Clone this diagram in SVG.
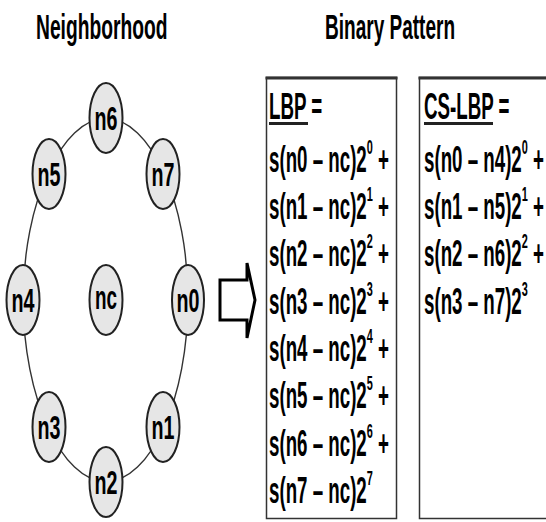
<svg xmlns="http://www.w3.org/2000/svg" width="546" height="522" viewBox="0 0 546 522">
  <style>
    text { font-family: "Liberation Sans", Arial, sans-serif; font-weight: bold; fill: #000; }
    .title { font-size: 35px; }
    .lbl { font-size: 33px; text-anchor: middle; }
    .eq { font-size: 36px; }
    .sup { font-size: 21px; }
    .node ellipse { fill: #e6e6e6; stroke: #222; stroke-width: 2; }
    .ring { fill: none; stroke: #333; stroke-width: 1.4; }
    .box { fill: #fff; stroke: #333; stroke-width: 1.5; }
    .boxtop { stroke: #333; stroke-width: 3; }
    .uline { stroke: #222; stroke-width: 3; }
  </style>

  <rect width="546" height="522" fill="#fff"/>

  <!-- headings (condensed horizontally) -->
  <text class="title" transform="translate(36,39) scale(0.55,1)">Neighborhood</text>
  <text class="title" transform="translate(325,39) scale(0.544,1)">Binary Pattern</text>

  <!-- ring joining the eight neighbours (ellipse centre 106,300; rx 83, ry 182) -->
  <g id="connectors">
    <path class="ring" d="M188,300 A83,182 0 0 1 164,427"/>
    <path class="ring" d="M164,427 A83,182 0 0 1 106,482"/>
    <path class="ring" d="M106,482 A83,182 0 0 1 48,427"/>
    <path class="ring" d="M48,427 A83,182 0 0 1 23,300"/>
    <path class="ring" d="M23,300 A83,182 0 0 1 48,173"/>
    <path class="ring" d="M48,173 A83,182 0 0 1 106,118"/>
    <path class="ring" d="M106,118 A83,182 0 0 1 164,173"/>
    <path class="ring" d="M164,173 A83,182 0 0 1 188,300"/>
  </g>

  <!-- neighbourhood nodes -->
  <g id="n6" class="node"><ellipse cx="106" cy="118" rx="16.5" ry="35"/><text class="lbl" x="106" y="130" textLength="23" lengthAdjust="spacingAndGlyphs">n6</text></g>
  <g id="n5" class="node"><ellipse cx="49" cy="174" rx="16.5" ry="35"/><text class="lbl" x="49" y="186" textLength="23" lengthAdjust="spacingAndGlyphs">n5</text></g>
  <g id="n7" class="node"><ellipse cx="163" cy="174" rx="16.5" ry="35"/><text class="lbl" x="163" y="186" textLength="23" lengthAdjust="spacingAndGlyphs">n7</text></g>
  <g id="n4" class="node"><ellipse cx="23" cy="300" rx="16.5" ry="35"/><text class="lbl" x="23" y="312" textLength="23" lengthAdjust="spacingAndGlyphs">n4</text></g>
  <g id="nc" class="node"><ellipse cx="106" cy="300" rx="16.5" ry="35"/><text class="lbl" x="106" y="309" textLength="22" lengthAdjust="spacingAndGlyphs">nc</text></g>
  <g id="n0" class="node"><ellipse cx="188" cy="300" rx="16" ry="35"/><text class="lbl" x="188" y="312" textLength="23" lengthAdjust="spacingAndGlyphs">n0</text></g>
  <g id="n3" class="node"><ellipse cx="49" cy="427" rx="16.5" ry="35"/><text class="lbl" x="49" y="439" textLength="23" lengthAdjust="spacingAndGlyphs">n3</text></g>
  <g id="n1" class="node"><ellipse cx="163" cy="427" rx="16.5" ry="35"/><text class="lbl" x="163" y="439" textLength="23" lengthAdjust="spacingAndGlyphs">n1</text></g>
  <g id="n2" class="node"><ellipse cx="106" cy="482" rx="16.5" ry="35"/><text class="lbl" x="106" y="494" textLength="23" lengthAdjust="spacingAndGlyphs">n2</text></g>

  <!-- hollow block arrow -->
  <g id="arrow">
    <polygon points="220,280 247,280 247,263 255,300 247,338 247,320 220,320" fill="#fff" stroke="#000" stroke-width="3" stroke-linejoin="miter"/>
  </g>

  <!-- LBP formula box -->
  <g id="lbp">
    <rect class="box" x="266.5" y="77.5" width="130" height="441"/>
    <line class="boxtop" x1="265.5" y1="78" x2="397.5" y2="78"/>
    <g transform="translate(269,0) scale(0.52,1)">
      <text class="eq" x="0" y="119">LBP =</text>
      <text class="eq" x="0" y="172">s(n0 – nc)2<tspan class="sup" dy="-18">0</tspan><tspan dy="18"> +</tspan></text>
      <text class="eq" x="0" y="219">s(n1 – nc)2<tspan class="sup" dy="-18">1</tspan><tspan dy="18"> +</tspan></text>
      <text class="eq" x="0" y="266">s(n2 – nc)2<tspan class="sup" dy="-18">2</tspan><tspan dy="18"> +</tspan></text>
      <text class="eq" x="0" y="314">s(n3 – nc)2<tspan class="sup" dy="-18">3</tspan><tspan dy="18"> +</tspan></text>
      <text class="eq" x="0" y="361">s(n4 – nc)2<tspan class="sup" dy="-18">4</tspan><tspan dy="18"> +</tspan></text>
      <text class="eq" x="0" y="408">s(n5 – nc)2<tspan class="sup" dy="-18">5</tspan><tspan dy="18"> +</tspan></text>
      <text class="eq" x="0" y="456">s(n6 – nc)2<tspan class="sup" dy="-18">6</tspan><tspan dy="18"> +</tspan></text>
      <text class="eq" x="0" y="503">s(n7 – nc)2<tspan class="sup" dy="-18">7</tspan></text>
    </g>
    <line class="uline" x1="269" y1="123.5" x2="308" y2="123.5"/>
  </g>

  <!-- CS-LBP formula box -->
  <g id="cslbp">
    <rect class="box" x="419.5" y="77.5" width="140" height="441"/>
    <line class="boxtop" x1="418.5" y1="78" x2="546" y2="78"/>
    <g transform="translate(424,0) scale(0.52,1)">
      <text class="eq" x="0" y="119">CS-LBP =</text>
      <text class="eq" x="0" y="172">s(n0 – n4)2<tspan class="sup" dy="-18">0</tspan><tspan dy="18"> +</tspan></text>
      <text class="eq" x="0" y="219">s(n1 – n5)2<tspan class="sup" dy="-18">1</tspan><tspan dy="18"> +</tspan></text>
      <text class="eq" x="0" y="266">s(n2 – n6)2<tspan class="sup" dy="-18">2</tspan><tspan dy="18"> +</tspan></text>
      <text class="eq" x="0" y="314">s(n3 – n7)2<tspan class="sup" dy="-18">3</tspan></text>
    </g>
    <line class="uline" x1="424" y1="123.5" x2="493" y2="123.5"/>
  </g>
</svg>
